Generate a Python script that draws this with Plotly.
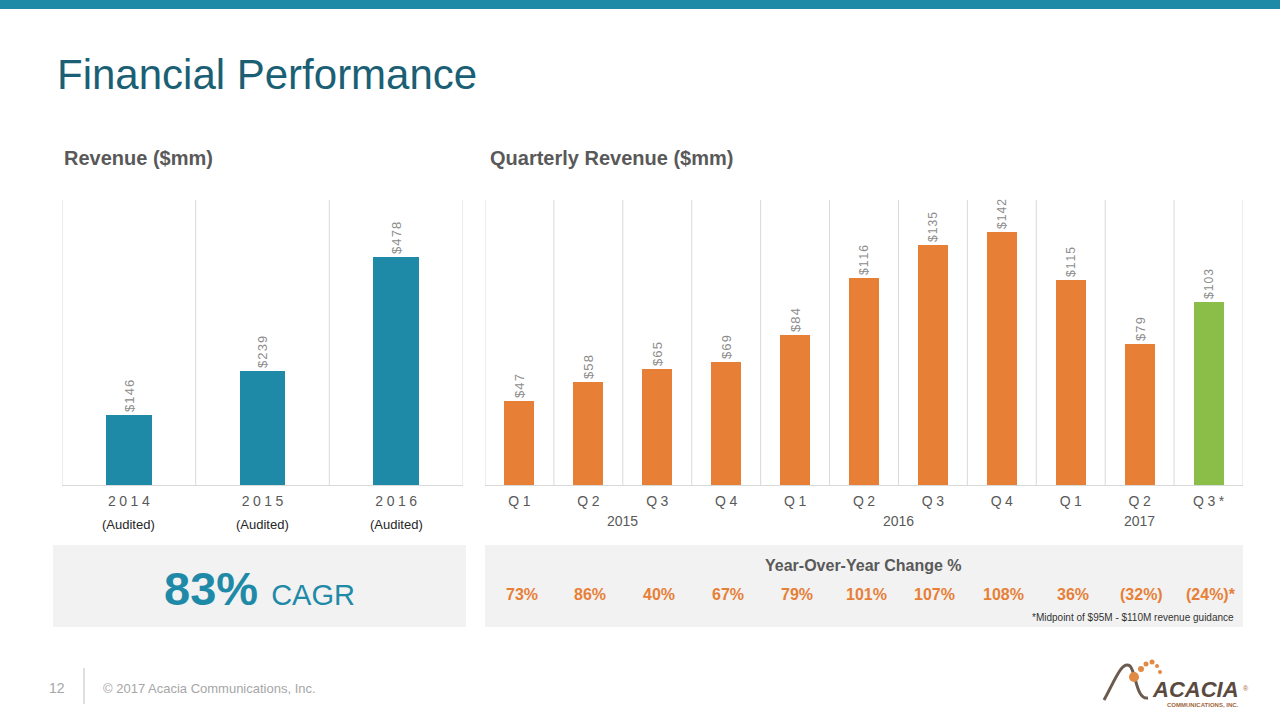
import plotly.graph_objects as go

# ---------------- data ----------------
years = ["2014", "2015", "2016"]
annual_revenue = [146, 239, 478]
annual_note = ["(Audited)", "(Audited)", "(Audited)"]

quarters = ["Q1", "Q2", "Q3", "Q4", "Q1", "Q2", "Q3", "Q4", "Q1", "Q2", "Q3*"]
quarter_year = ["2015", "2015", "2015", "2015", "2016", "2016", "2016", "2016", "2017", "2017", "2017"]
quarterly_revenue = [47, 58, 65, 69, 84, 116, 135, 142, 115, 79, 103]
is_guidance = [False] * 10 + [True]
yoy_change = ["73%", "86%", "40%", "67%", "79%", "101%", "107%", "108%", "36%", "(32%)", "(24%)*"]

cagr_value = "83%"
cagr_label = "CAGR"

# ---------------- styles ----------------
TEAL = "#1F8AA8"
ORANGE = "#E77F37"
GREEN = "#8BBE49"
GRID = "#D9D9D9"
FONT = "Liberation Sans, Arial, sans-serif"
HS = "\u200a"  # hair space for letter spacing


def spaced(s):
    return HS.join(list(s))


W, H = 1280, 720


def px(x):
    return x / W


def py(y):
    return 1 - y / H


fig = go.Figure()

# left chart
xi_left = list(range(len(years)))
fig.add_trace(go.Bar(
    x=xi_left, y=annual_revenue, xaxis="x", yaxis="y",
    marker=dict(color=TEAL, line=dict(width=0)), width=0.34,
    text=[spaced("$" + str(v)) for v in annual_revenue],
    textposition="outside", textangle=-90,
    textfont=dict(family=FONT, size=13, color="#8C8C8C"),
    cliponaxis=False, hoverinfo="skip",
))

# right chart
xi_right = list(range(len(quarters)))
fig.add_trace(go.Bar(
    x=xi_right, y=quarterly_revenue, xaxis="x2", yaxis="y2",
    marker=dict(color=[GREEN if g else ORANGE for g in is_guidance], line=dict(width=0)),
    width=0.435,
    text=[spaced("$" + str(v)) for v in quarterly_revenue],
    textposition="outside", textangle=-90,
    textfont=dict(family=FONT, size=13, color="#8C8C8C"),
    cliponaxis=False, hoverinfo="skip",
))

yd = [py(485), py(200)]

fig.update_layout(
    width=W, height=H, margin=dict(l=0, r=0, t=0, b=0),
    paper_bgcolor="white", plot_bgcolor="rgba(0,0,0,0)",
    showlegend=False, bargap=0,
    font=dict(family=FONT, color="#595959"),
    xaxis=dict(
        domain=[px(62), px(463)], range=[-0.5, len(years) - 0.5],
        tickvals=xi_left, ticktext=[spaced(spaced(y)) for y in years],
        tickfont=dict(size=14, color="#595959"), ticks="", showgrid=False,
        zeroline=False, showline=True, linecolor=GRID, linewidth=1,
        ticklabelstandoff=3, fixedrange=True,
    ),
    yaxis=dict(
        domain=yd, range=[0, 598], visible=False, showgrid=False, zeroline=False, fixedrange=True,
    ),
    xaxis2=dict(
        domain=[px(485), px(1243)], range=[-0.5, len(quarters) - 0.5], anchor="y2",
        tickvals=xi_right, ticktext=[spaced(spaced(q)) for q in quarters],
        tickfont=dict(size=14, color="#595959"), ticks="", showgrid=False,
        zeroline=False, showline=True, linecolor=GRID, linewidth=1,
        ticklabelstandoff=3, fixedrange=True,
    ),
    yaxis2=dict(
        domain=yd, range=[0, 160], anchor="x2", visible=False, showgrid=False,
        zeroline=False, fixedrange=True,
    ),
)

shapes = []
ann = []

# category divider lines (incl. edges)
for xref, n in [("x", len(years)), ("x2", len(quarters))]:
    for i in range(n + 1):
        shapes.append(dict(type="line", xref=xref, yref="paper", x0=i - 0.5, x1=i - 0.5,
                           y0=yd[0], y1=yd[1], line=dict(color=GRID, width=1), layer="below"))

# top band
shapes.append(dict(type="rect", xref="paper", yref="paper", x0=0, x1=1, y0=py(9), y1=1,
                   fillcolor=TEAL, line=dict(width=0), layer="below"))
# bottom boxes
shapes.append(dict(type="rect", xref="paper", yref="paper", x0=px(53), x1=px(466), y0=py(627), y1=py(545),
                   fillcolor="#F2F2F2", line=dict(width=0), layer="below"))
shapes.append(dict(type="rect", xref="paper", yref="paper", x0=px(485), x1=px(1243), y0=py(627), y1=py(545),
                   fillcolor="#F2F2F2", line=dict(width=0), layer="below"))
# footer divider
shapes.append(dict(type="line", xref="paper", yref="paper", x0=px(84), x1=px(84), y0=py(704), y1=py(668),
                   line=dict(color="#BFBFBF", width=1)))

# title
ann.append(dict(text="Financial Performance", xref="paper", yref="paper", x=px(55), y=py(75),
                xanchor="left", yanchor="middle", showarrow=False,
                font=dict(family=FONT, size=42, color="#1B5F75")))
ann.append(dict(text="<b>Revenue ($mm)</b>", xref="paper", yref="paper", x=px(62), y=py(158),
                xanchor="left", yanchor="middle", showarrow=False,
                font=dict(family=FONT, size=20, color="#595959")))
ann.append(dict(text="<b>Quarterly Revenue ($mm)</b>", xref="paper", yref="paper", x=px(488), y=py(158),
                xanchor="left", yanchor="middle", showarrow=False,
                font=dict(family=FONT, size=20, color="#595959")))

# audited notes
for i, n in enumerate(annual_note):
    ann.append(dict(text=n, xref="x", yref="paper", x=xi_left[i], y=py(524),
                    xanchor="center", yanchor="middle", showarrow=False,
                    font=dict(family=FONT, size=13, color="#262626")))

# year group labels
groups = []
for i, yv in enumerate(quarter_year):
    if not groups or groups[-1][0] != yv:
        groups.append([yv, i, i])
    else:
        groups[-1][2] = i
for yv, a, b in groups:
    ann.append(dict(text=yv, xref="x2", yref="paper", x=(a + b) / 2, y=py(521),
                    xanchor="center", yanchor="middle", showarrow=False,
                    font=dict(family=FONT, size=14, color="#595959")))

# CAGR
ann.append(dict(text=f"<b>{cagr_value}</b> <span style='font-size:29px'>{cagr_label}</span>",
                xref="paper", yref="paper", x=px(259), y=py(588),
                xanchor="center", yanchor="middle", showarrow=False,
                font=dict(family=FONT, size=47, color=TEAL)))

# YoY
ann.append(dict(text="<b>Year-Over-Year Change %</b>", xref="paper", yref="paper", x=px(863), y=py(565),
                xanchor="center", yanchor="middle", showarrow=False,
                font=dict(family=FONT, size=16, color="#595959")))
for i, v in enumerate(yoy_change):
    ann.append(dict(text=f"<b>{v}</b>", xref="x2", yref="paper", x=xi_right[i] + 0.03, y=py(594),
                    xanchor="center", yanchor="middle", showarrow=False,
                    font=dict(family=FONT, size=16, color=ORANGE)))
ann.append(dict(text="*Midpoint of $95M - $110M revenue guidance", xref="paper", yref="paper",
                x=px(1236), y=py(617), xanchor="right", yanchor="middle", showarrow=False,
                font=dict(family=FONT, size=10, color="#333333")))

# footer
ann.append(dict(text="12", xref="paper", yref="paper", x=px(47), y=py(688),
                xanchor="left", yanchor="middle", showarrow=False,
                font=dict(family=FONT, size=14, color="#A6A6A6")))
ann.append(dict(text="© 2017 Acacia Communications, Inc.", xref="paper", yref="paper", x=px(101), y=py(688),
                xanchor="left", yanchor="middle", showarrow=False,
                font=dict(family=FONT, size=13, color="#A6A6A6")))

# logo (approximation)
ann.append(dict(text="<b><i>ACACIA</i></b>", xref="paper", yref="paper", x=px(1241), y=py(689),
                xanchor="right", yanchor="middle", showarrow=False,
                font=dict(family=FONT, size=22, color="#5B4A3F")))
ann.append(dict(text="<b>COMMUNICATIONS, INC.</b>", xref="paper", yref="paper", x=px(1241), y=py(705),
                xanchor="right", yanchor="middle", showarrow=False,
                font=dict(family=FONT, size=6, color="#A0663A")))
ann.append(dict(text="®", xref="paper", yref="paper", x=px(1246), y=py(688),
                xanchor="center", yanchor="middle", showarrow=False,
                font=dict(family=FONT, size=7, color="#A0663A")))
# swoosh
shapes.append(dict(type="path", xref="paper", yref="paper",
                   path=f"M {px(1104)},{py(700)} C {px(1115)},{py(680)} {px(1122)},{py(660)} {px(1130)},{py(666)} "
                        f"C {px(1136)},{py(672)} {px(1136)},{py(700)} {px(1148)},{py(698)}",
                   line=dict(color="#6B5A4E", width=3)))
for cx, cy, r in [(1134, 677, 5), (1141, 669, 3), (1146, 664, 2.5), (1152, 662, 2.5), (1157, 666, 2), (1160, 672, 2)]:
    shapes.append(dict(type="circle", xref="paper", yref="paper",
                       x0=px(cx - r), x1=px(cx + r), y0=py(cy + r), y1=py(cy - r),
                       fillcolor="#E08A45", line=dict(width=0)))

fig.update_layout(shapes=shapes, annotations=ann)
fig.write_html("out.html")
